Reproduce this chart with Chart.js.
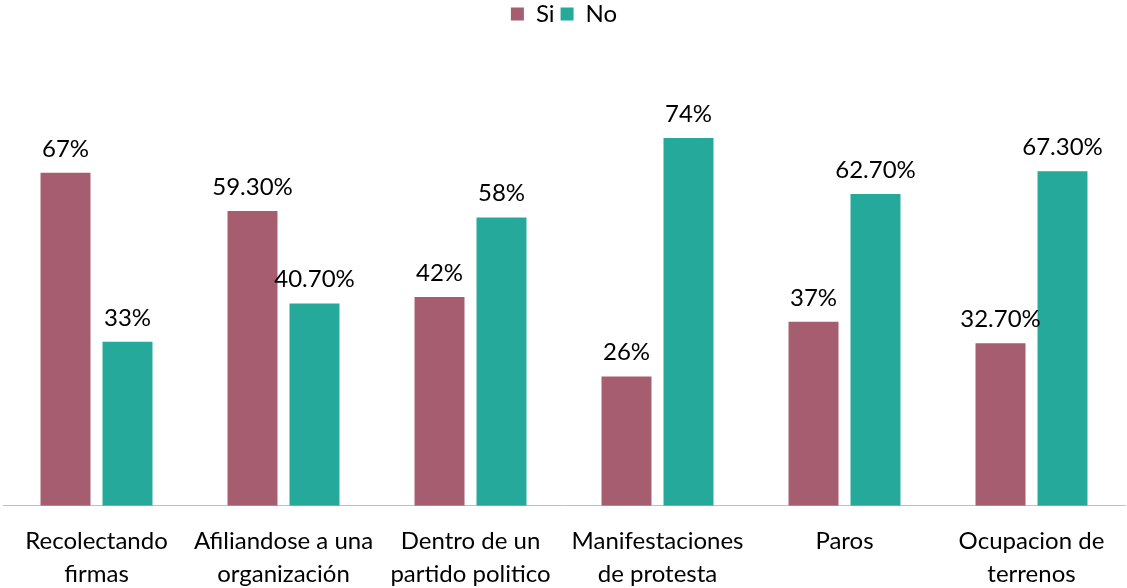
<!DOCTYPE html>
<html>
<head>
<meta charset="utf-8">
<script src="https://cdn.jsdelivr.net/npm/chart.js@4.4.0/dist/chart.umd.min.js"></script>
<style>
  html, body { margin: 0; padding: 0; background: #fff; }
  #wrap { width: 1127px; height: 588px; }
</style>
</head>
<body>
<div id="wrap"><canvas id="grafico"></canvas></div>
<script>
// datos
const categorias = [
    ['Recolectando', 'firmas'],
    ['Afiliandose a una', 'organización'],
    ['Dentro de un', 'partido politico'],
    ['Manifestaciones', 'de protesta'],
    ['Paros'],
    ['Ocupacion de', 'terrenos']
]
const valoresSi = [67, 59.3, 42, 26, 37, 32.7]
const valoresNo = [33, 40.7, 58, 74, 62.7, 67.3]
const etiquetasSi = ['67%', '59.30%', '42%', '26%', '37%', '32.70%']
const etiquetasNo = ['33%', '40.70%', '58%', '74%', '62.70%', '67.30%']

const fuente = 'Lato, "Open Sans", sans-serif'

// etiquetas encima de las barras
const etiquetasPlugin = {
    id: 'etiquetas',
    afterDatasetsDraw(chart) {
        const ctx = chart.ctx
        const listas = [etiquetasSi, etiquetasNo]
        ctx.save()
        ctx.font = '24px ' + fuente
        ctx.fillStyle = '#000'
        ctx.textAlign = 'center'
        ctx.textBaseline = 'alphabetic'
        chart.data.datasets.forEach((ds, i) => {
            const meta = chart.getDatasetMeta(i)
            meta.data.forEach((bar, j) => {
                ctx.fillText(listas[i][j], bar.x, bar.y - 16)
            })
        })
        ctx.restore()
    }
}

new Chart(document.getElementById('grafico'), {
    type: 'bar',
    data: {
        labels: categorias,
        datasets: [{
            label: 'Si',
            data: valoresSi,
            backgroundColor: '#A55D6F',
            categoryPercentage: 0.663,
            barPercentage: 0.806
        }, {
            label: 'No',
            data: valoresNo,
            backgroundColor: '#24A99A',
            categoryPercentage: 0.663,
            barPercentage: 0.806
        }]
    },
    options: {
        responsive: true,
        maintainAspectRatio: false,
        animation: false,
        layout: { padding: { left: 3, right: 2, top: -4, bottom: -14 } },
        plugins: {
            legend: {
                position: 'top',
                labels: {
                    font: { family: fuente, size: 24 },
                    color: '#000',
                    boxWidth: 13,
                    boxHeight: 13,
                    padding: 6
                }
            },
            tooltip: { enabled: false }
        },
        scales: {
            x: {
                grid: { display: false },
                border: { color: '#BFBFBF', width: 1 },
                ticks: {
                    font: { family: fuente, size: 24, lineHeight: 1.34 },
                    color: '#000',
                    padding: 12,
                    maxRotation: 0,
                    autoSkip: false
                }
            },
            y: {
                display: false,
                min: 0,
                max: 94.5
            }
        }
    },
    plugins: [etiquetasPlugin]
})
</script>
</body>
</html>
